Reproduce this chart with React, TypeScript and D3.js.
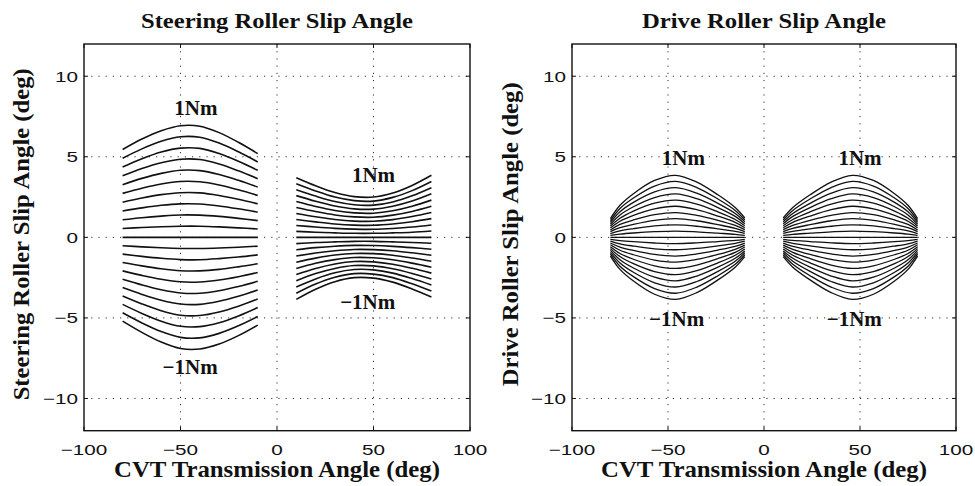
import React from 'react';
import * as d3 from 'd3';

// torque levels, -1Nm .. 1Nm, one curve per level
const torqueLevels = [-1, -0.9, -0.8, -0.7, -0.6, -0.5, -0.4, -0.3, -0.2, -0.1, 0, 0.1, 0.2, 0.3, 0.4, 0.5, 0.6, 0.7, 0.8, 0.9, 1];

// steering roller, negative transmission angle
const steerLeftX = [-80, -70, -60, -50, -40, -30, -20, -10];
const steerLeftCurves = [
  [-5.20, -5.90, -6.50, -6.90, -6.93, -6.62, -6.10, -5.45],
  [-4.68, -5.31, -5.85, -6.21, -6.24, -5.96, -5.49, -4.91],
  [-4.16, -4.72, -5.20, -5.52, -5.54, -5.30, -4.88, -4.36],
  [-3.64, -4.13, -4.55, -4.83, -4.85, -4.63, -4.27, -3.82],
  [-3.12, -3.54, -3.90, -4.14, -4.16, -3.97, -3.66, -3.27],
  [-2.60, -2.95, -3.25, -3.45, -3.47, -3.31, -3.05, -2.73],
  [-2.08, -2.36, -2.60, -2.76, -2.77, -2.65, -2.44, -2.18],
  [-1.56, -1.77, -1.95, -2.07, -2.08, -1.99, -1.83, -1.64],
  [-1.04, -1.18, -1.30, -1.38, -1.39, -1.32, -1.22, -1.09],
  [-0.52, -0.59, -0.65, -0.69, -0.69, -0.66, -0.61, -0.55],
  [0, 0, 0, 0, 0, 0, 0, 0],
  [0.55, 0.61, 0.66, 0.69, 0.69, 0.65, 0.59, 0.52],
  [1.09, 1.22, 1.32, 1.39, 1.38, 1.30, 1.18, 1.04],
  [1.64, 1.83, 1.99, 2.08, 2.07, 1.95, 1.77, 1.56],
  [2.18, 2.44, 2.65, 2.77, 2.76, 2.60, 2.36, 2.08],
  [2.73, 3.05, 3.31, 3.47, 3.45, 3.25, 2.95, 2.60],
  [3.27, 3.66, 3.97, 4.16, 4.14, 3.90, 3.54, 3.12],
  [3.82, 4.27, 4.63, 4.85, 4.83, 4.55, 4.13, 3.64],
  [4.36, 4.88, 5.30, 5.54, 5.52, 5.20, 4.72, 4.16],
  [4.91, 5.49, 5.96, 6.24, 6.21, 5.85, 5.31, 4.68],
  [5.45, 6.10, 6.62, 6.93, 6.90, 6.50, 5.90, 5.20],
];

// steering roller, positive transmission angle
const steerRightX = [10, 20, 30, 40, 50, 60, 70, 80];
const steerRightCurves = [
  [-3.85, -3.22, -2.75, -2.50, -2.53, -2.78, -3.20, -3.70],
  [-3.47, -2.90, -2.48, -2.25, -2.28, -2.50, -2.88, -3.33],
  [-3.08, -2.58, -2.20, -2.00, -2.02, -2.22, -2.56, -2.96],
  [-2.70, -2.25, -1.93, -1.75, -1.77, -1.95, -2.24, -2.59],
  [-2.31, -1.93, -1.65, -1.50, -1.52, -1.67, -1.92, -2.22],
  [-1.93, -1.61, -1.38, -1.25, -1.27, -1.39, -1.60, -1.85],
  [-1.54, -1.29, -1.10, -1.00, -1.01, -1.11, -1.28, -1.48],
  [-1.16, -0.97, -0.83, -0.75, -0.76, -0.83, -0.96, -1.11],
  [-0.77, -0.64, -0.55, -0.50, -0.51, -0.56, -0.64, -0.74],
  [-0.39, -0.32, -0.28, -0.25, -0.25, -0.28, -0.32, -0.37],
  [0, 0, 0, 0, 0, 0, 0, 0],
  [0.37, 0.32, 0.28, 0.25, 0.25, 0.28, 0.32, 0.39],
  [0.74, 0.64, 0.56, 0.51, 0.50, 0.55, 0.64, 0.77],
  [1.11, 0.96, 0.83, 0.76, 0.75, 0.83, 0.97, 1.16],
  [1.48, 1.28, 1.11, 1.01, 1.00, 1.10, 1.29, 1.54],
  [1.85, 1.60, 1.39, 1.27, 1.25, 1.38, 1.61, 1.93],
  [2.22, 1.92, 1.67, 1.52, 1.50, 1.65, 1.93, 2.31],
  [2.59, 2.24, 1.95, 1.77, 1.75, 1.93, 2.25, 2.70],
  [2.96, 2.56, 2.22, 2.02, 2.00, 2.20, 2.58, 3.08],
  [3.33, 2.88, 2.50, 2.28, 2.25, 2.48, 2.90, 3.47],
  [3.70, 3.20, 2.78, 2.53, 2.50, 2.75, 3.22, 3.85],
];

// drive roller, negative transmission angle
const driveLeftX = [-80, -75, -68, -57, -46, -35, -24, -15, -10];
const driveLeftCurves = [
  [-1.16, -1.99, -2.71, -3.53, -3.85, -3.43, -2.64, -1.85, -1.20],
  [-1.04, -1.79, -2.44, -3.18, -3.47, -3.09, -2.38, -1.67, -1.08],
  [-0.93, -1.59, -2.17, -2.82, -3.08, -2.74, -2.11, -1.48, -0.96],
  [-0.81, -1.39, -1.90, -2.47, -2.70, -2.40, -1.85, -1.30, -0.84],
  [-0.70, -1.19, -1.63, -2.12, -2.31, -2.06, -1.58, -1.11, -0.72],
  [-0.58, -1.00, -1.36, -1.77, -1.93, -1.72, -1.32, -0.93, -0.60],
  [-0.46, -0.80, -1.08, -1.41, -1.54, -1.37, -1.06, -0.74, -0.48],
  [-0.35, -0.60, -0.81, -1.06, -1.16, -1.03, -0.79, -0.56, -0.36],
  [-0.23, -0.40, -0.54, -0.71, -0.77, -0.69, -0.53, -0.37, -0.24],
  [-0.12, -0.20, -0.27, -0.35, -0.39, -0.34, -0.26, -0.19, -0.12],
  [0, 0, 0, 0, 0, 0, 0, 0, 0],
  [0.12, 0.20, 0.27, 0.35, 0.39, 0.34, 0.26, 0.19, 0.12],
  [0.23, 0.40, 0.54, 0.71, 0.77, 0.69, 0.53, 0.37, 0.24],
  [0.35, 0.60, 0.81, 1.06, 1.16, 1.03, 0.79, 0.56, 0.36],
  [0.46, 0.80, 1.08, 1.41, 1.54, 1.37, 1.06, 0.74, 0.48],
  [0.58, 1.00, 1.36, 1.77, 1.93, 1.72, 1.32, 0.93, 0.60],
  [0.70, 1.19, 1.63, 2.12, 2.31, 2.06, 1.58, 1.11, 0.72],
  [0.81, 1.39, 1.90, 2.47, 2.70, 2.40, 1.85, 1.30, 0.84],
  [0.93, 1.59, 2.17, 2.82, 3.08, 2.74, 2.11, 1.48, 0.96],
  [1.04, 1.79, 2.44, 3.18, 3.47, 3.09, 2.38, 1.67, 1.08],
  [1.16, 1.99, 2.71, 3.53, 3.85, 3.43, 2.64, 1.85, 1.20],
];

// drive roller, positive transmission angle
const driveRightX = [10, 15, 24, 35, 46, 57, 68, 75, 80];
const driveRightCurves = [
  [-1.20, -1.85, -2.64, -3.43, -3.85, -3.53, -2.71, -1.99, -1.16],
  [-1.08, -1.67, -2.38, -3.09, -3.47, -3.18, -2.44, -1.79, -1.04],
  [-0.96, -1.48, -2.11, -2.74, -3.08, -2.82, -2.17, -1.59, -0.93],
  [-0.84, -1.30, -1.85, -2.40, -2.70, -2.47, -1.90, -1.39, -0.81],
  [-0.72, -1.11, -1.58, -2.06, -2.31, -2.12, -1.63, -1.19, -0.70],
  [-0.60, -0.93, -1.32, -1.72, -1.93, -1.77, -1.36, -1.00, -0.58],
  [-0.48, -0.74, -1.06, -1.37, -1.54, -1.41, -1.08, -0.80, -0.46],
  [-0.36, -0.56, -0.79, -1.03, -1.16, -1.06, -0.81, -0.60, -0.35],
  [-0.24, -0.37, -0.53, -0.69, -0.77, -0.71, -0.54, -0.40, -0.23],
  [-0.12, -0.19, -0.26, -0.34, -0.39, -0.35, -0.27, -0.20, -0.12],
  [0, 0, 0, 0, 0, 0, 0, 0, 0],
  [0.12, 0.19, 0.26, 0.34, 0.39, 0.35, 0.27, 0.20, 0.12],
  [0.24, 0.37, 0.53, 0.69, 0.77, 0.71, 0.54, 0.40, 0.23],
  [0.36, 0.56, 0.79, 1.03, 1.16, 1.06, 0.81, 0.60, 0.35],
  [0.48, 0.74, 1.06, 1.37, 1.54, 1.41, 1.08, 0.80, 0.46],
  [0.60, 0.93, 1.32, 1.72, 1.93, 1.77, 1.36, 1.00, 0.58],
  [0.72, 1.11, 1.58, 2.06, 2.31, 2.12, 1.63, 1.19, 0.70],
  [0.84, 1.30, 1.85, 2.40, 2.70, 2.47, 1.90, 1.39, 0.81],
  [0.96, 1.48, 2.11, 2.74, 3.08, 2.82, 2.17, 1.59, 0.93],
  [1.08, 1.67, 2.38, 3.09, 3.47, 3.18, 2.44, 1.79, 1.04],
  [1.20, 1.85, 2.64, 3.43, 3.85, 3.53, 2.71, 1.99, 1.16],
];

const xTicks = [-100, -50, 0, 50, 100];
const yTicks = [-10, -5, 0, 5, 10];
const xDomain = [-100, 100];
const yDomain = [-12, 12];

// torque annotations: [x, y, text]
const steerLabels: [number, number, string][] = [
  [-42, 7.6, '1Nm'], [-45, -8.45, '\u22121Nm'],
  [50, 3.43, '1Nm'], [47, -4.43, '\u22121Nm'],
];
const driveLabels: [number, number, string][] = [
  [-42, 4.47, '1Nm'], [-45.5, -5.53, '\u22121Nm'],
  [50, 4.47, '1Nm'], [47, -5.53, '\u22121Nm'],
];

const serif = "'Liberation Serif', 'Times New Roman', serif";
const sans = "'Liberation Sans', Arial, sans-serif";

type Group = { xs: number[]; curves: number[][] };

function Panel(props: {
  left: number; right: number; title: string; titleLen: number;
  ylabel: string; ylabelLen: number; ylabelX: number;
  groups: Group[]; labels: [number, number, string][]; lw: number;
}) {
  const top = 44, bottom = 430.7;
  const x = d3.scaleLinear().domain(xDomain).range([props.left, props.right]);
  const y = d3.scaleLinear().domain(yDomain).range([bottom, top]);
  const line = d3.line<[number, number]>()
    .x(d => x(d[0]))
    .y(d => y(d[1]))
    .curve(d3.curveCatmullRom.alpha(0.5));
  const cx = (props.left + props.right) / 2;
  const cy = (top + bottom) / 2;
  const tick = 4;

  return (
    <g>
      {/* grid */}
      {xTicks.slice(1, -1).map(t => (
        <line key={'gx' + t} x1={x(t)} x2={x(t)} y1={top} y2={bottom}
          stroke="#333" strokeWidth={1} strokeDasharray="1.2 6" />
      ))}
      {yTicks.map(t => (
        <line key={'gy' + t} x1={props.left} x2={props.right} y1={y(t)} y2={y(t)}
          stroke="#333" strokeWidth={1} strokeDasharray="1.2 6" />
      ))}

      {/* curves */}
      {props.groups.map((g, gi) => g.curves.map((c, ci) => (
        <path key={gi + '-' + torqueLevels[ci]}
          d={line(g.xs.map((xv, i) => [xv, c[i]] as [number, number])) || ''}
          fill="none" stroke="#111" strokeWidth={props.lw} />
      )))}

      {/* frame + ticks */}
      <rect x={props.left} y={top} width={props.right - props.left} height={bottom - top}
        fill="none" stroke="#111" strokeWidth={1.4} />
      {xTicks.map(t => (
        <g key={'tx' + t}>
          <line x1={x(t)} x2={x(t)} y1={bottom} y2={bottom - tick} stroke="#111" />
          <line x1={x(t)} x2={x(t)} y1={top} y2={top + tick} stroke="#111" />
          <text transform={`translate(${x(t)},455) scale(1.38,1)`} textAnchor="middle"
            fontFamily={sans} fontSize={15} fill="#111">
            {t < 0 ? '\u2212' + Math.abs(t) : t}
          </text>
        </g>
      ))}
      {yTicks.map(t => (
        <g key={'ty' + t}>
          <line x1={props.left} x2={props.left + tick} y1={y(t)} y2={y(t)} stroke="#111" />
          <line x1={props.right} x2={props.right - tick} y1={y(t)} y2={y(t)} stroke="#111" />
          <text transform={`translate(${props.left - 6},${y(t) + 5.3}) scale(1.38,1)`} textAnchor="end"
            fontFamily={sans} fontSize={15} fill="#111">
            {t < 0 ? '\u2212' + Math.abs(t) : t}
          </text>
        </g>
      ))}

      {/* annotations */}
      {props.labels.map(([lx, ly, s]) => (
        <text key={s + lx} x={x(lx)} y={y(ly)} textAnchor="middle"
          fontFamily={serif} fontWeight="bold" fontSize={21} fill="#111">{s}</text>
      ))}

      {/* titles */}
      <text x={cx - props.titleLen / 2} y={28} textLength={props.titleLen} lengthAdjust="spacingAndGlyphs"
        fontFamily={serif} fontWeight="bold" fontSize={21} fill="#111">{props.title}</text>
      <text x={cx - 163} y={477} textLength={326} lengthAdjust="spacingAndGlyphs"
        fontFamily={serif} fontWeight="bold" fontSize={23} fill="#111">CVT Transmission Angle (deg)</text>
      <text transform={`translate(${props.ylabelX},${cy + props.ylabelLen / 2 - 3}) rotate(-90)`}
        textLength={props.ylabelLen} lengthAdjust="spacingAndGlyphs"
        fontFamily={serif} fontWeight="bold" fontSize={23} fill="#111">{props.ylabel}</text>
    </g>
  );
}

export default function App() {
  return (
    <svg width={975} height={486} style={{ position: 'absolute', left: 0, top: 0, background: '#fff' }}>
      <rect width={975} height={486} fill="#fff" />
      <Panel left={84} right={470} title="Steering Roller Slip Angle" titleLen={272}
        ylabel="Steering Roller Slip Angle (deg)" ylabelLen={332} ylabelX={29}
        groups={[{ xs: steerLeftX, curves: steerLeftCurves }, { xs: steerRightX, curves: steerRightCurves }]}
        labels={steerLabels} lw={1.6} />
      <Panel left={572} right={956} title="Drive Roller Slip Angle" titleLen={244}
        ylabel="Drive Roller Slip Angle (deg)" ylabelLen={304} ylabelX={518}
        groups={[{ xs: driveLeftX, curves: driveLeftCurves }, { xs: driveRightX, curves: driveRightCurves }]}
        labels={driveLabels} lw={1.3} />
    </svg>
  );
}
